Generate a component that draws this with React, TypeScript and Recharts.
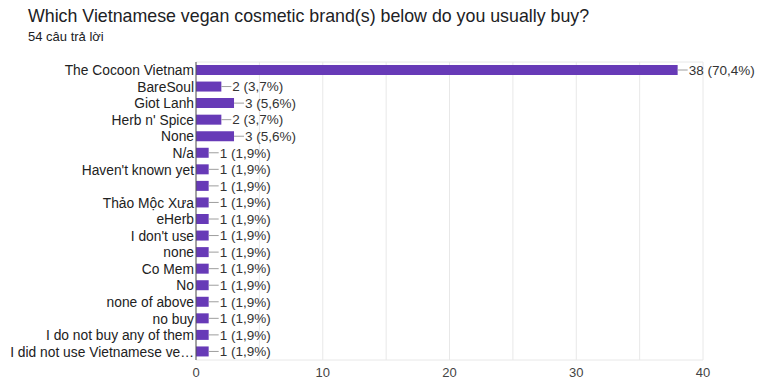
import React from "react";
import { BarChart, Bar, XAxis, YAxis, CartesianGrid, LabelList } from "recharts";

const brands = [
  "The Cocoon Vietnam",
  "BareSoul",
  "Giot Lanh",
  "Herb n' Spice",
  "None",
  "N/a",
  "Haven't known yet",
  "",
  "Thảo Mộc Xưa",
  "eHerb",
  "I don't use",
  "none",
  "Co Mem",
  "No",
  "none of above",
  "no buy",
  "I do not buy any of them",
  "I did not use Vietnamese ve…",
];
const counts = [38, 2, 3, 2, 3, 1, 1, 1, 1, 1, 1, 1, 1, 1, 1, 1, 1, 1];
const totalAnswers = 54;
const xTicks = [0, 5, 10, 15, 20, 25, 30, 35, 40];

const rows = brands.map((name, i) => ({ key: `${i}-${name}`, name, count: counts[i] }));

const font = "'Liberation Sans', Arial, sans-serif";

const pct = (v: number) => ((v / totalAnswers) * 100).toFixed(1).replace(".", ",");

// connector line + "n (p%)" text after each bar
const BarLabel = (props: any) => {
  const { x, y, width, height, value } = props;
  const x0 = x + width;
  const cy = y + height / 2;
  return (
    <g>
      <line x1={x0} y1={cy} x2={x0 + 10} y2={cy} stroke="#9e9e9e" strokeWidth={1} />
      <text x={x0 + 11} y={cy} dy="0.35em" fontSize={13.5} fill="#333" fontFamily={font}>
        {`${value} (${pct(value)}%)`}
      </text>
    </g>
  );
};

export default function App() {
  return (
    <div style={{ position: "absolute", left: 0, top: 0, width: 759, height: 380, background: "#fff", fontFamily: font }}>
      <div style={{ position: "absolute", left: 28, top: 6, fontSize: 17.8, color: "#202124" }}>
        Which Vietnamese vegan cosmetic brand(s) below do you usually buy?
      </div>
      <div style={{ position: "absolute", left: 28, top: 29, fontSize: 13, color: "#202124" }}>
        54 câu trả lời
      </div>
      <BarChart
        width={759}
        height={380}
        data={rows}
        layout="vertical"
        margin={{ top: 62, right: 56, left: 0, bottom: 0 }}
        style={{ position: "absolute", left: 0, top: 0 }}
      >
        <CartesianGrid
          stroke="#e8e8e8"
          horizontalCoordinatesGenerator={({ offset }: any) => [offset.top, offset.top + offset.height]}
        />
        <XAxis
          type="number"
          domain={[0, 40]}
          ticks={xTicks}
          tickFormatter={(v: number) => (v % 10 === 0 ? String(v) : "")}
          axisLine={false}
          tickLine={false}
          height={20}
          tick={{ fontSize: 13, fill: "#444", fontFamily: font }}
        />
        <YAxis
          type="category"
          dataKey="key"
          width={196}
          tickFormatter={(_: string, i: number) => brands[i]}
          axisLine={{ stroke: "#555" }}
          tickLine={false}
          tickSize={0}
          tickMargin={2}
          interval={0}
          tick={{ fontSize: 13.8, fill: "#222", fontFamily: font }}
        />
        <Bar dataKey="count" fill="#673ab7" barSize={10} isAnimationActive={false}>
          <LabelList dataKey="count" content={<BarLabel />} />
        </Bar>
      </BarChart>
    </div>
  );
}
